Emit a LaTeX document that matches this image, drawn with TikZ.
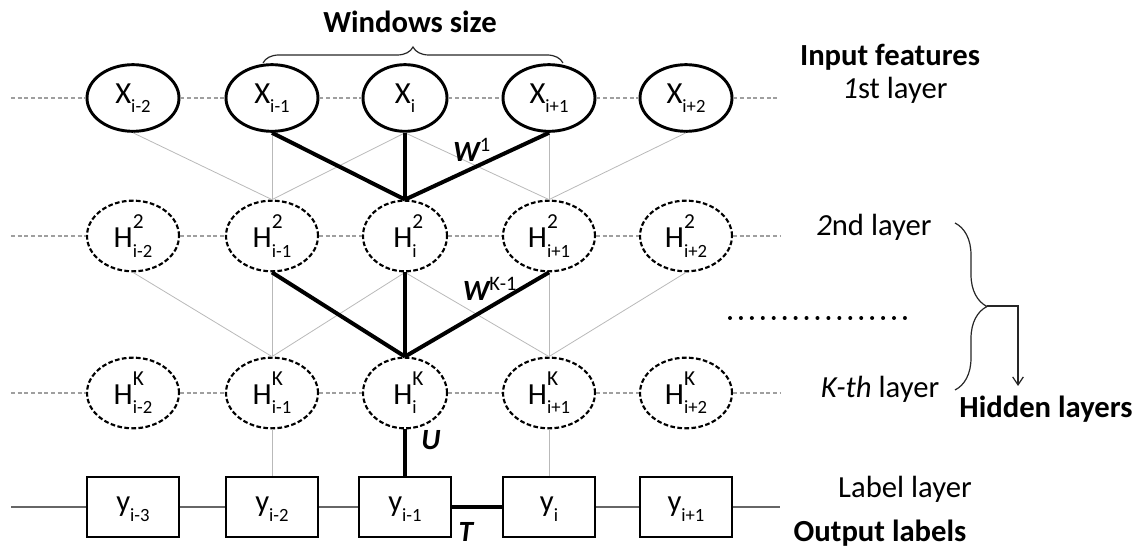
\documentclass[tikz,border=0pt]{standalone}
\usepackage{fontspec}
\setmainfont{Carlito}
\usetikzlibrary{shapes.geometric,decorations.pathreplacing,arrows.meta}
\newcommand{\nlab}[3]{#1\rlap{\raisebox{0.62em}{\fontsize{16}{16}\selectfont #2}}\raisebox{-0.3em}{\fontsize{14}{14}\selectfont #3}}
\begin{document}
\begin{tikzpicture}[x=0.75pt,y=-0.75pt,
  inp/.style={ellipse,draw,line width=2.2pt,fill=white,minimum width=69pt,minimum height=50pt,inner sep=0pt,font=\fontsize{23}{23}\selectfont},
  hid/.style={ellipse,draw,line width=1.6pt,dash pattern=on 3.5pt off 1.8pt,fill=white,minimum width=69pt,minimum height=53pt,inner sep=0pt,font=\fontsize{23}{23}\selectfont},
  narrow/.style={minimum width=63pt},
  outbox/.style={rectangle,draw,line width=2.2pt,fill=white,minimum width=69pt,minimum height=45pt,inner sep=0pt,font=\fontsize{23}{23}\selectfont},
  txt/.style={font=\fontsize{23}{27}\selectfont,inner sep=0pt},
  btxt/.style={font=\fontsize{23}{27}\selectfont\bfseries,inner sep=0pt},
  wlab/.style={font=\fontsize{22}{26}\selectfont\bfseries\itshape,inner sep=0pt},
  hline/.style={draw=gray!75,line width=0.8pt,dash pattern=on 3pt off 2pt},
  thin/.style={draw=gray!55,line width=0.6pt},
  thick/.style={draw=black,line width=3pt},
  brc/.style={draw=gray!30!black,line width=0.9pt,decorate}
]
\useasboundingbox (0,0) rectangle (1147,552);

% row 1
\node[inp] (x1) at (133,98) {\nlab{X}{}{i-2}};
\node[inp] (x2) at (272,98) {\nlab{X}{}{i-1}};
\node[inp,narrow] (x3) at (405,98) {\nlab{X}{}{i}};
\node[inp] (x4) at (549,98) {\nlab{X}{}{i+1}};
\node[inp] (x5) at (686,98) {\nlab{X}{}{i+2}};
% row 2
\node[hid] (a1) at (133,236) {\nlab{H}{2}{i-2}};
\node[hid] (a2) at (272,236) {\nlab{H}{2}{i-1}};
\node[hid,narrow] (a3) at (405,236) {\nlab{H}{2}{i}};
\node[hid] (a4) at (549,236) {\nlab{H}{2}{i+1}};
\node[hid] (a5) at (686,236) {\nlab{H}{2}{i+2}};
% row 3
\node[hid] (b1) at (133,393) {\nlab{H}{K}{i-2}};
\node[hid] (b2) at (272,393) {\nlab{H}{K}{i-1}};
\node[hid,narrow] (b3) at (405,393) {\nlab{H}{K}{i}};
\node[hid] (b4) at (549,393) {\nlab{H}{K}{i+1}};
\node[hid] (b5) at (686,393) {\nlab{H}{K}{i+2}};
% row 4
\node[outbox] (y1) at (133,507) {\nlab{y}{}{i-3}};
\node[outbox] (y2) at (272,507) {\nlab{y}{}{i-2}};
\node[outbox] (y3) at (405,507) {\nlab{y}{}{i-1}};
\node[outbox] (y4) at (549,507) {\nlab{y}{}{i}};
\node[outbox] (y5) at (686,507) {\nlab{y}{}{i+1}};

% line end coordinates
\coordinate (l1) at (11,98);  \coordinate (r1) at (780,98);
\coordinate (l2) at (11,236); \coordinate (r2) at (780,236);
\coordinate (l3) at (11,393); \coordinate (r3) at (780,393);
\coordinate (l4) at (11,507); \coordinate (r4) at (780,507);

\draw[hline] (l1) -- (x1) (x1) -- (x2) (x2) -- (x3) (x3) -- (x4) (x4) -- (x5) (x5) -- (r1);
\draw[hline] (l2) -- (a1) (a1) -- (a2) (a2) -- (a3) (a3) -- (a4) (a4) -- (a5) (a5) -- (r2);
\draw[hline] (l3) -- (b1) (b1) -- (b2) (b2) -- (b3) (b3) -- (b4) (b4) -- (b5) (b5) -- (r3);
\draw[draw=gray!80!black,line width=0.9pt] (l4) -- (y1) (y1) -- (y2) (y2) -- (y3) (y4) -- (y5) (y5) -- (r4);
\draw[thick] (y3) -- (y4);

% layer 1 -> 2
\draw[thin] (x1.south) -- (a2.north);
\draw[thin] (x2.south) -- (a2.north);
\draw[thin] (x3.south) -- (a2.north);
\draw[thin] (x3.south) -- (a4.north);
\draw[thin] (x4.south) -- (a4.north);
\draw[thin] (x5.south) -- (a4.north);
\draw[thick] (x2.south) -- (a3.north);
\draw[thick] (x3.south) -- (a3.north);
\draw[thick] (x4.south) -- (a3.north);
% layer 2 -> K
\draw[thin] (a1.south) -- (b2.north);
\draw[thin] (a2.south) -- (b2.north);
\draw[thin] (a3.south) -- (b2.north);
\draw[thin] (a3.south) -- (b4.north);
\draw[thin] (a4.south) -- (b4.north);
\draw[thin] (a5.south) -- (b4.north);
\draw[thick] (a2.south) -- (b3.north);
\draw[thick] (a3.south) -- (b3.north);
\draw[thick] (a4.south) -- (b3.north);
% layer K -> labels
\draw[thin] (b2.south) -- (y2.north);
\draw[thin] (b4.south) -- (y4.north);
\draw[thick] (b3.south) -- (y3.north);

% weight labels
\node[wlab] (w1) at (472,150) {W\textsuperscript{\normalfont\mdseries 1}};
\node[wlab] (wk) at (490,289) {W\textsuperscript{\normalfont\mdseries K-1}};
\node[wlab] (u) at (431,440) {U};
\node[wlab] (t) at (466,532) {T};

% top brace and title
\coordinate (wb1) at (263,63);
\coordinate (wb2) at (563,63);
\draw[brc,decoration={brace,amplitude=12pt}] (wb1) -- (wb2);
\node[btxt] (ws) at (410,22) {Windows size};

% right labels
\node[btxt] (inf) at (890,57) {Input features};
\node[txt] (l1t) at (895,90) {\textit{1}st layer};
\node[txt] (l2t) at (874,227) {\textit{2}nd layer};
\node[txt] (lkt) at (880,389) {\textit{K-th} layer};
\node[txt] (llt) at (905,489) {Label layer};
\node[btxt] (olt) at (880,533) {Output labels};

% dotted line
\coordinate (d1) at (730,318);
\coordinate (d2) at (905,318);
\draw[line width=3pt,line cap=round,dash pattern=on 0pt off 8.2pt] (d1) -- (d2);

% right brace and arrow
\coordinate (rb1) at (955,223);
\coordinate (rb2) at (955,390);
\coordinate (rbt) at (987,306);
\coordinate (ah) at (1018,386);
\draw[brc,decoration={brace,amplitude=24pt}] (rb1) -- (rb2);
\draw[draw=gray!30!black,line width=0.9pt,-{Straight Barb[length=6pt,width=8pt]}] (rbt) -| (ah);
\node[btxt] (hl) at (1046,409) {Hidden layers};
\end{tikzpicture}
\end{document}
